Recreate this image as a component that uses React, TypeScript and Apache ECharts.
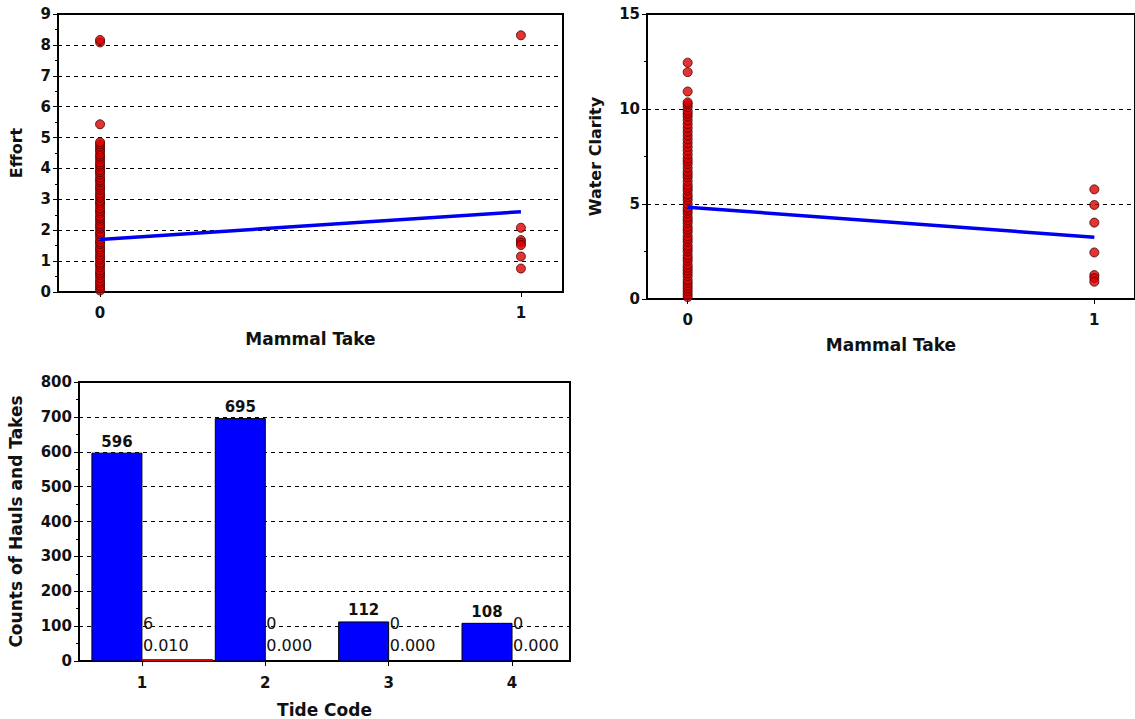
import React, { useEffect, useRef } from "react";
import * as echarts from "echarts";

// ---------- data ----------
const takeCategories = [0, 1];

const effortNoTake = [
  0.05, 0.12, 0.2, 0.28, 0.35, 0.45, 0.55, 0.62, 0.7, 0.8, 0.88, 0.95, 1.05, 1.12, 1.2, 1.3,
  1.38, 1.45, 1.55, 1.62, 1.7, 1.8, 1.88, 1.95, 2.05, 2.12, 2.2, 2.3, 2.38, 2.45, 2.55, 2.62,
  2.7, 2.8, 2.88, 2.95, 3.05, 3.12, 3.2, 3.3, 3.38, 3.45, 3.55, 3.62, 3.7, 3.8, 3.88, 3.95,
  4.05, 4.12, 4.2, 4.3, 4.38, 4.45, 4.55, 4.62, 4.7, 4.78, 4.85, 5.43, 8.08, 8.16,
];
const effortTake = [8.31, 2.08, 1.68, 1.6, 1.52, 1.15, 0.76];
const effortFit = [1.7, 2.6]; // fitted at take 0 and 1

const clarityNoTake = [
  0.1, 0.25, 0.4, 0.55, 0.7, 0.85, 1.0, 1.2, 1.35, 1.5, 1.65, 1.8, 2.0, 2.15, 2.3, 2.5, 2.65,
  2.8, 3.0, 3.15, 3.3, 3.5, 3.65, 3.8, 4.0, 4.15, 4.3, 4.5, 4.65, 4.8, 5.0, 5.2, 5.35, 5.5,
  5.7, 5.85, 6.0, 6.2, 6.4, 6.55, 6.7, 6.9, 7.1, 7.25, 7.4, 7.6, 7.8, 8.0, 8.2, 8.4, 8.6,
  8.8, 9.0, 9.2, 9.4, 9.6, 9.75, 9.9, 10.1, 10.25, 10.35, 10.92, 11.94, 12.44,
];
const clarityTake = [5.77, 4.95, 4.02, 2.45, 1.26, 1.1, 0.91];
const clarityFit = [4.83, 3.25];

const tideCodes = [1, 2, 3, 4];
const haulCounts = [596, 695, 112, 108];
const takeCounts = [6, 0, 0, 0];
const takeRates = [0.01, 0, 0, 0];

// ---------- styling ----------
const BOLD = '"DejaVu Sans", Verdana, sans-serif';
const TXT = "#111111";
const RED = "#dd0000";
const BLUE = "#0000f0";

function scatterXAxis(gridIndex: number, nameGap: number) {
  return {
    type: "value",
    gridIndex,
    min: -0.1,
    max: 1.1,
    name: "Mammal Take",
    nameLocation: "middle",
    nameGap,
    nameTextStyle: { fontFamily: BOLD, fontWeight: "bold", fontSize: 17, color: TXT },
    axisLine: { onZero: false, lineStyle: { color: "#000", width: 2 } },
    axisTick: { customValues: takeCategories, length: 5, lineStyle: { color: "#000" } },
    axisLabel: {
      customValues: takeCategories,
      margin: 13,
      fontFamily: BOLD,
      fontWeight: "bold",
      fontSize: 15,
      color: TXT,
    },
    splitLine: { show: false },
  };
}

function yAxisDef(
  gridIndex: number,
  max: number,
  interval: number,
  name: string,
  nameGap: number,
  nameSize: number
) {
  return {
    type: "value",
    gridIndex,
    min: 0,
    max,
    interval,
    name,
    nameLocation: "middle",
    nameRotate: 90,
    nameGap,
    nameTextStyle: { fontFamily: BOLD, fontWeight: "bold", fontSize: nameSize, color: TXT },
    axisLine: { show: true, onZero: false, lineStyle: { color: "#000", width: 2 } },
    axisTick: { show: true, length: 5, lineStyle: { color: "#000" } },
    minorTick: { show: true, splitNumber: 2, length: 3, lineStyle: { color: "#000" } },
    axisLabel: { margin: 7, fontFamily: BOLD, fontWeight: "bold", fontSize: 15, color: TXT },
    splitLine: { show: true, lineStyle: { color: "#000", type: [4, 4], width: 1 } },
  };
}

const symbolStyle = { color: RED, borderColor: "#400000", borderWidth: 1 };

export default function App() {
  const ref = useRef<HTMLDivElement>(null);

  useEffect(() => {
    if (!ref.current) return;
    const chart = echarts.init(ref.current, null, { renderer: "svg" });

    const effortPts = [
      ...effortNoTake.map((v) => [takeCategories[0], v]),
      ...effortTake.map((v) => [takeCategories[1], v]),
    ];
    const clarityPts = [
      ...clarityNoTake.map((v) => [takeCategories[0], v]),
      ...clarityTake.map((v) => [takeCategories[1], v]),
    ];

    const barData = tideCodes.map((c, i) => [c, haulCounts[i]]);
    const takeData = tideCodes.map((c, i) => [c, takeCounts[i], takeRates[i]]);

    const option: any = {
      animation: false,
      backgroundColor: "#ffffff",
      grid: [
        { left: 58, top: 14, width: 505, height: 278, show: true, borderColor: "#000", borderWidth: 2, backgroundColor: "transparent" },
        { left: 647, top: 14, width: 495, height: 285, show: true, borderColor: "#000", borderWidth: 2, backgroundColor: "transparent" },
        { left: 79, top: 382, width: 491, height: 279, show: true, borderColor: "#000", borderWidth: 2, backgroundColor: "transparent" },
      ],
      xAxis: [
        scatterXAxis(0, 38),
        scatterXAxis(1, 37),
        {
          type: "value",
          gridIndex: 2,
          min: 0.49,
          max: 4.47,
          name: "Tide Code",
          nameLocation: "middle",
          nameGap: 40,
          nameTextStyle: { fontFamily: BOLD, fontWeight: "bold", fontSize: 17, color: TXT },
          axisLine: { onZero: false, lineStyle: { color: "#000", width: 2 } },
          axisTick: { customValues: tideCodes, length: 5, lineStyle: { color: "#000" } },
          axisLabel: {
            customValues: tideCodes,
            margin: 14,
            fontFamily: BOLD,
            fontWeight: "bold",
            fontSize: 15,
            color: TXT,
          },
          splitLine: { show: false },
        },
      ],
      yAxis: [
        yAxisDef(0, 9, 1, "Effort", 34, 16),
        yAxisDef(1, 15, 5, "Water Clarity", 44, 16),
        yAxisDef(2, 800, 100, "Counts of Hauls and Takes", 55, 17),
      ],
      series: [
        {
          type: "scatter",
          xAxisIndex: 0,
          yAxisIndex: 0,
          data: effortPts,
          symbol: "circle",
          symbolSize: 9,
          itemStyle: symbolStyle,
          z: 3,
        },
        {
          type: "line",
          xAxisIndex: 0,
          yAxisIndex: 0,
          data: takeCategories.map((c, i) => [c, effortFit[i]]),
          showSymbol: false,
          lineStyle: { color: BLUE, width: 3.5 },
          z: 4,
        },
        {
          type: "scatter",
          xAxisIndex: 1,
          yAxisIndex: 1,
          data: clarityPts,
          symbol: "circle",
          symbolSize: 9,
          itemStyle: symbolStyle,
          z: 3,
        },
        {
          type: "line",
          xAxisIndex: 1,
          yAxisIndex: 1,
          data: takeCategories.map((c, i) => [c, clarityFit[i]]),
          showSymbol: false,
          lineStyle: { color: BLUE, width: 3.5 },
          z: 4,
        },
        {
          type: "custom",
          xAxisIndex: 2,
          yAxisIndex: 2,
          data: barData,
          encode: { x: 0, y: 1 },
          z: 3,
          renderItem: (params: any, api: any) => {
            const x = api.value(0);
            const v = api.value(1);
            const base = api.coord([x, 0]);
            const top = api.coord([x, v]);
            const w = 50;
            return {
              type: "group",
              children: [
                {
                  type: "rect",
                  shape: { x: base[0] - w, y: top[1], width: w, height: base[1] - top[1] },
                  style: { fill: "#0000ff", stroke: "#000", lineWidth: 1 },
                },
                {
                  type: "text",
                  x: base[0] - w / 2,
                  y: top[1] - 4,
                  style: {
                    text: String(v),
                    align: "center",
                    verticalAlign: "bottom",
                    font: `bold 15px ${BOLD}`,
                    fill: TXT,
                  },
                },
              ],
            };
          },
        },
        {
          type: "custom",
          xAxisIndex: 2,
          yAxisIndex: 2,
          data: takeData,
          encode: { x: 0, y: 1 },
          z: 3,
          renderItem: (params: any, api: any) => {
            const x = api.value(0);
            const v = api.value(1);
            const r = api.value(2);
            const base = api.coord([x, 0]);
            const top = api.coord([x, v]);
            const ref100 = api.coord([x, 100]);
            const w = 71;
            return {
              type: "group",
              children: [
                {
                  type: "rect",
                  shape: { x: base[0], y: top[1], width: w, height: base[1] - top[1] },
                  style: { fill: RED },
                },
                {
                  type: "text",
                  x: base[0] + 1,
                  y: ref100[1] - 3,
                  style: {
                    text: String(v),
                    align: "left",
                    verticalAlign: "middle",
                    font: `16px ${BOLD}`,
                    fill: TXT,
                  },
                },
                {
                  type: "text",
                  x: base[0] + 1,
                  y: ref100[1] + 19,
                  style: {
                    text: Number(r).toFixed(3),
                    align: "left",
                    verticalAlign: "middle",
                    font: `16px ${BOLD}`,
                    fill: TXT,
                  },
                },
              ],
            };
          },
        },
      ],
    };

    chart.setOption(option);
    return () => chart.dispose();
  }, []);

  return (
    <div
      ref={ref}
      style={{ position: "absolute", left: 0, top: 0, width: 1135, height: 719, background: "#fff" }}
    />
  );
}
